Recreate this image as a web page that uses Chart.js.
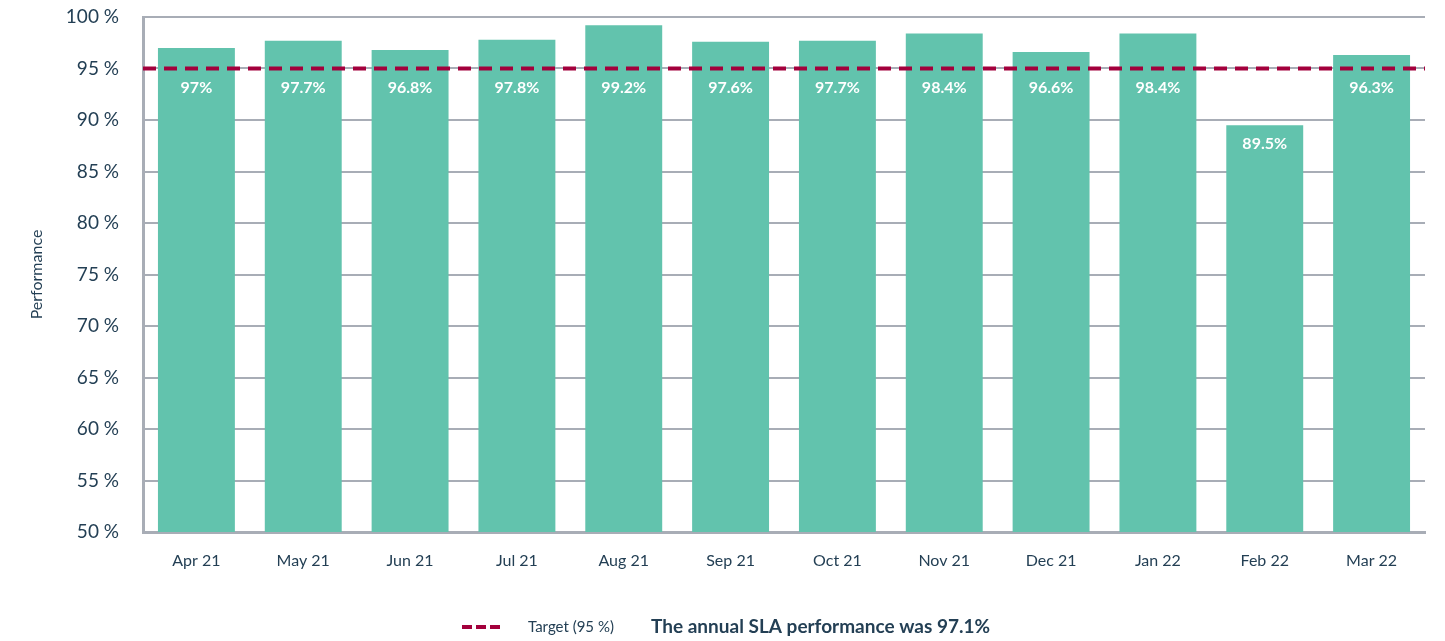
<!DOCTYPE html>
<html>
<head>
<meta charset="utf-8">
<script src="https://cdn.jsdelivr.net/npm/chart.js@4.4.0/dist/chart.umd.min.js"></script>
<style>
  html, body { margin: 0; padding: 0; background: #fff; }
  #wrap { width: 1445px; height: 641px; }
</style>
</head>
<body>
<div id="wrap"><canvas id="myChart" width="1445" height="641"></canvas></div>
<script>
var months = ['Apr 21', 'May 21', 'Jun 21', 'Jul 21', 'Aug 21', 'Sep 21', 'Oct 21', 'Nov 21', 'Dec 21', 'Jan 22', 'Feb 22', 'Mar 22'];
var performance = [97, 97.7, 96.8, 97.8, 99.2, 97.6, 97.7, 98.4, 96.6, 98.4, 89.5, 96.3];
var target = 95;
var annual = 97.1;
var yTicks = [50, 55, 60, 65, 70, 75, 80, 85, 90, 95, 100];

var textColor = '#233f54';
var gridColor = '#a8adb6';
var barColor = '#62c3ad';
var targetColor = '#a3003c';
var fontName = 'Lato, "Open Sans", sans-serif';

// white value labels, kept under the target line
var barLabels = {
  id: 'barLabels',
  afterDatasetsDraw: function(chart) {
    var ctx = chart.ctx;
    var meta = chart.getDatasetMeta(1);
    var yScale = chart.scales.y;
    ctx.save();
    ctx.fillStyle = '#ffffff';
    ctx.font = 'bold 16px ' + fontName;
    ctx.textAlign = 'center';
    ctx.textBaseline = 'middle';
    for (var i = 0; i < meta.data.length; i++) {
      var v = performance[i];
      var y = yScale.getPixelForValue(Math.min(v, target)) + 19;
      ctx.fillText(v + '%', meta.data[i].x, y);
    }
    ctx.restore();
  }
};

// legend + annual note at the bottom
var footer = {
  id: 'footer',
  afterDraw: function(chart) {
    var ctx = chart.ctx;
    ctx.save();
    ctx.strokeStyle = targetColor;
    ctx.lineWidth = 4;
    ctx.setLineDash([10, 4]);
    ctx.beginPath();
    ctx.moveTo(462, 627);
    ctx.lineTo(500, 627);
    ctx.stroke();
    ctx.setLineDash([]);
    ctx.fillStyle = textColor;
    ctx.textBaseline = 'middle';
    ctx.font = '15px ' + fontName;
    ctx.fillText('Target (' + target + ' %)', 528, 627);
    ctx.font = 'bold 19px ' + fontName;
    ctx.fillText('The annual SLA performance was ' + annual + '%', 651, 627);
    ctx.restore();
  }
};

var ctx = document.getElementById('myChart').getContext('2d');
var myChart = new Chart(ctx, {
  type: 'bar',
  data: {
    labels: months,
    datasets: [
      {
        type: 'line',
        label: 'Target',
        data: [{x: 0, y: target}, {x: 1, y: target}],
        xAxisID: 'x2',
        borderColor: targetColor,
        borderWidth: 4,
        borderDash: [13, 8],
        pointRadius: 0,
        fill: false,
        order: 0
      },
      {
        label: 'Performance',
        data: performance,
        backgroundColor: barColor,
        barPercentage: 0.72,
        categoryPercentage: 1,
        grouped: false,
        order: 1
      }
    ]
  },
  options: {
    responsive: false,
    animation: false,
    layout: { padding: { top: 17, right: 20, left: 0, bottom: 0 } },
    plugins: {
      legend: { display: false },
      tooltip: { enabled: false }
    },
    scales: {
      x: {
        grid: { display: false },
        border: { color: gridColor, width: 3 },
        ticks: { color: textColor, font: { family: fontName, size: 16 }, padding: 11 },
        afterFit: function(scale) { scale.height = 109; }
      },
      x2: {
        type: 'linear',
        display: false,
        offset: false,
        position: 'bottom',
        min: 0,
        max: 1
      },
      y: {
        min: 50,
        max: 100,
        afterBuildTicks: function(scale) {
          scale.ticks = yTicks.map(function(v) { return { value: v }; });
        },
        grid: { color: gridColor, lineWidth: 2, drawTicks: false },
        border: { color: gridColor, width: 3 },
        ticks: {
          color: textColor,
          font: { family: fontName, size: 19 },
          padding: 24,
          callback: function(v) { return v + ' %'; }
        },
        title: {
          display: true,
          text: 'Performance',
          color: textColor,
          font: { family: fontName, size: 16 },
          padding: { top: 27 }
        },
        afterFit: function(scale) {
          scale.width = 143;
          scale.paddingTop = 0;
          scale.paddingBottom = 0;
        }
      }
    }
  },
  plugins: [barLabels, footer]
});
</script>
</body>
</html>
